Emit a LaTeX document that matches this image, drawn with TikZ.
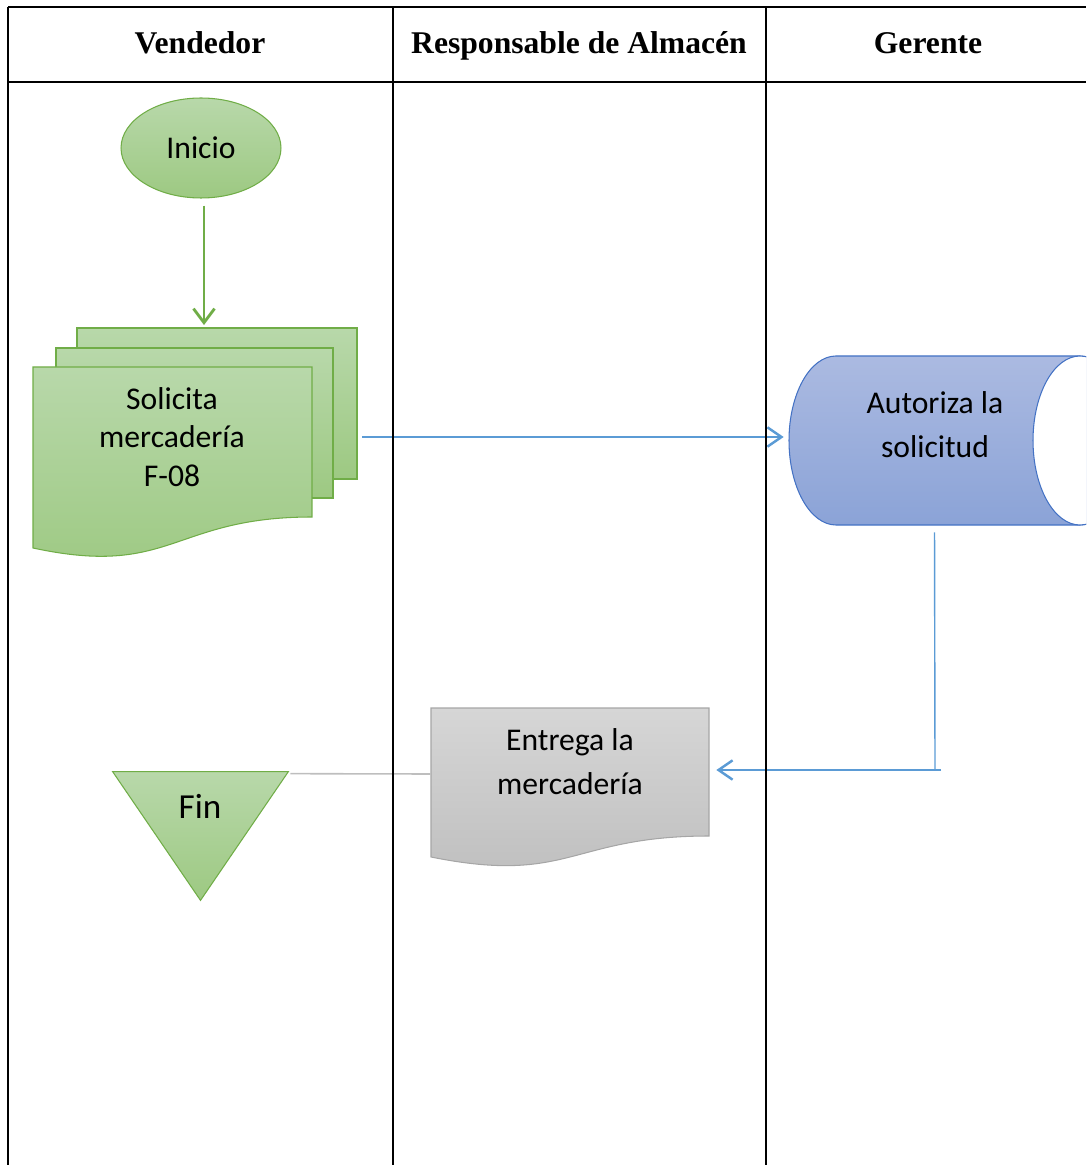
\documentclass[tikz,border=0pt]{standalone}
\usepackage{fontspec}
\setmainfont{Liberation Serif}
\newfontfamily\carlito{Carlito}
\usetikzlibrary{shapes.geometric, arrows.meta, positioning, fit, calc}
\definecolor{verdeborde}{RGB}{112,173,71}
\definecolor{verdearriba}{RGB}{184,216,170}
\definecolor{verdeabajo}{RGB}{157,201,130}
\definecolor{azulborde}{RGB}{68,114,196}
\definecolor{azularriba}{RGB}{171,186,225}
\definecolor{azulabajo}{RGB}{139,163,215}
\definecolor{azulflecha}{RGB}{91,155,213}
\definecolor{grisborde}{RGB}{166,166,166}
\definecolor{grisarriba}{RGB}{214,214,214}
\definecolor{grisabajo}{RGB}{190,190,190}
\definecolor{grislinea}{RGB}{190,190,190}

\begin{document}
\begin{tikzpicture}[
      x=0.02cm, y=-0.02cm,
      header/.style     = {font=\fontsize{18}{22}\selectfont\bfseries, anchor=base},
      texto/.style      = {font=\carlito\fontsize{18}{25}\selectfont, align=center, inner sep=0pt},
      marco/.style      = {draw=none, inner sep=0pt},
      verde/.style      = {draw=verdeborde, line width=0.6pt, top color=verdearriba, bottom color=verdeabajo},
      azul/.style       = {draw=azulborde, line width=0.6pt, top color=azularriba, bottom color=azulabajo},
      gris/.style       = {draw=grisborde, line width=0.6pt, top color=grisarriba, bottom color=grisabajo},
      flechaverde/.style = {-{Straight Barb[length=8pt, width=12pt]}, line width=1.6pt, color=verdeborde},
      flechaazul/.style = {-{Straight Barb[length=8pt, width=11pt]}, line width=1.4pt, color=azulflecha},
      lineaazul/.style  = {line width=0.8pt, color=azulflecha},
      lineagris/.style  = {line width=0.9pt, color=grislinea},
      tabla/.style      = {line width=1.1pt, black}
    ]
    \useasboundingbox (0,0) rectangle (1086,1165);
    \clip (0,0) rectangle (1086,1165);

    % Lanes
    \node[header] (vendedor) at (200,54) {Vendedor};
    \node[header] (almacen) at (579,54) {Responsable de Almacén};
    \node[header] (gerente) at (928,54) {Gerente};

    % Shapes
    \node[verde, ellipse, inner sep=0pt, minimum width=3.2cm, minimum height=2cm,
          font=\carlito\fontsize{18}{22}\selectfont] (inicio) at (201,148) {Inicio};

    \path[verde] (77,328) rectangle (357,479);
    \path[verde] (56,348) rectangle (333,498);
    \path[verde] (33,367) -- (312,367) -- (312,517)
      .. controls (172,517) and (172,578) .. (33,548) -- cycle;
    \node[marco, fit={(33,328) (357,557)}] (pila) {};
    \node[texto, font=\carlito\fontsize{18}{22}\selectfont] (solicita) at (172,437)
      {Solicita\\mercadería\\F-08};

    \path[azul] (836,356) -- (1080,356)
      arc[start angle=-90, end angle=90, x radius=47, y radius=84.5]
      -- (836,525)
      arc[start angle=90, end angle=270, x radius=47, y radius=84.5] -- cycle;
    \draw[azulborde, line width=0.6pt, fill=white] (1080,440.5) ellipse [x radius=47, y radius=84.5];
    \node[marco, fit={(789,356) (1080,525)}] (autoriza) {};
    \node[texto] (autoriza-txt) at (935,425) {Autoriza la\\solicitud};

    \path[gris] (431,708) -- (709,708) -- (709,836)
      .. controls (570,836) and (570,885) .. (431,857) -- cycle;
    \node[marco, fit={(431,708) (709,836)}] (entrega) {};
    \node[texto] (entrega-txt) at (570,762) {Entrega la\\mercadería};

    \node[marco, fit={(113,772) (288,900)}] (fin) {};
    \path[verde] (fin.north west) -- (fin.north east) -- (fin.south) -- cycle;
    \node[texto, font=\carlito\fontsize{20}{24}\selectfont] (fin-txt) at (200,806) {Fin};

    % Relationships
    \coordinate (codo) at (935,770);
    \draw[flechaverde, shorten <=4pt, shorten >=1.5pt] ([xshift=0.06cm]inicio.south) -- ([xshift=0.06cm]inicio.south |- pila.north);
    \draw[flechaazul, shorten <=0.1cm, shorten >=0.1cm] (pila.east |- solicita) -- (autoriza.west |- solicita);
    \draw[lineaazul, shorten <=0.14cm] (autoriza.south) -- (codo);
    \draw[flechaazul, shorten >=0.14cm] ([xshift=0.12cm]codo) -- (entrega.east |- codo);
    \draw[lineagris, shorten >=0.04cm] ([yshift=-0.04cm]entrega.west) -- ([yshift=-0.04cm]fin.north east);

    % Table
    \draw[tabla] (8,7) -- (1086,7);
    \draw[tabla] (8,82) -- (1086,82);
    \draw[tabla] (8,7) -- (8,1165);
    \draw[tabla] (393,7) -- (393,1165);
    \draw[tabla] (766,7) -- (766,1165);

  \end{tikzpicture}
\end{document}
